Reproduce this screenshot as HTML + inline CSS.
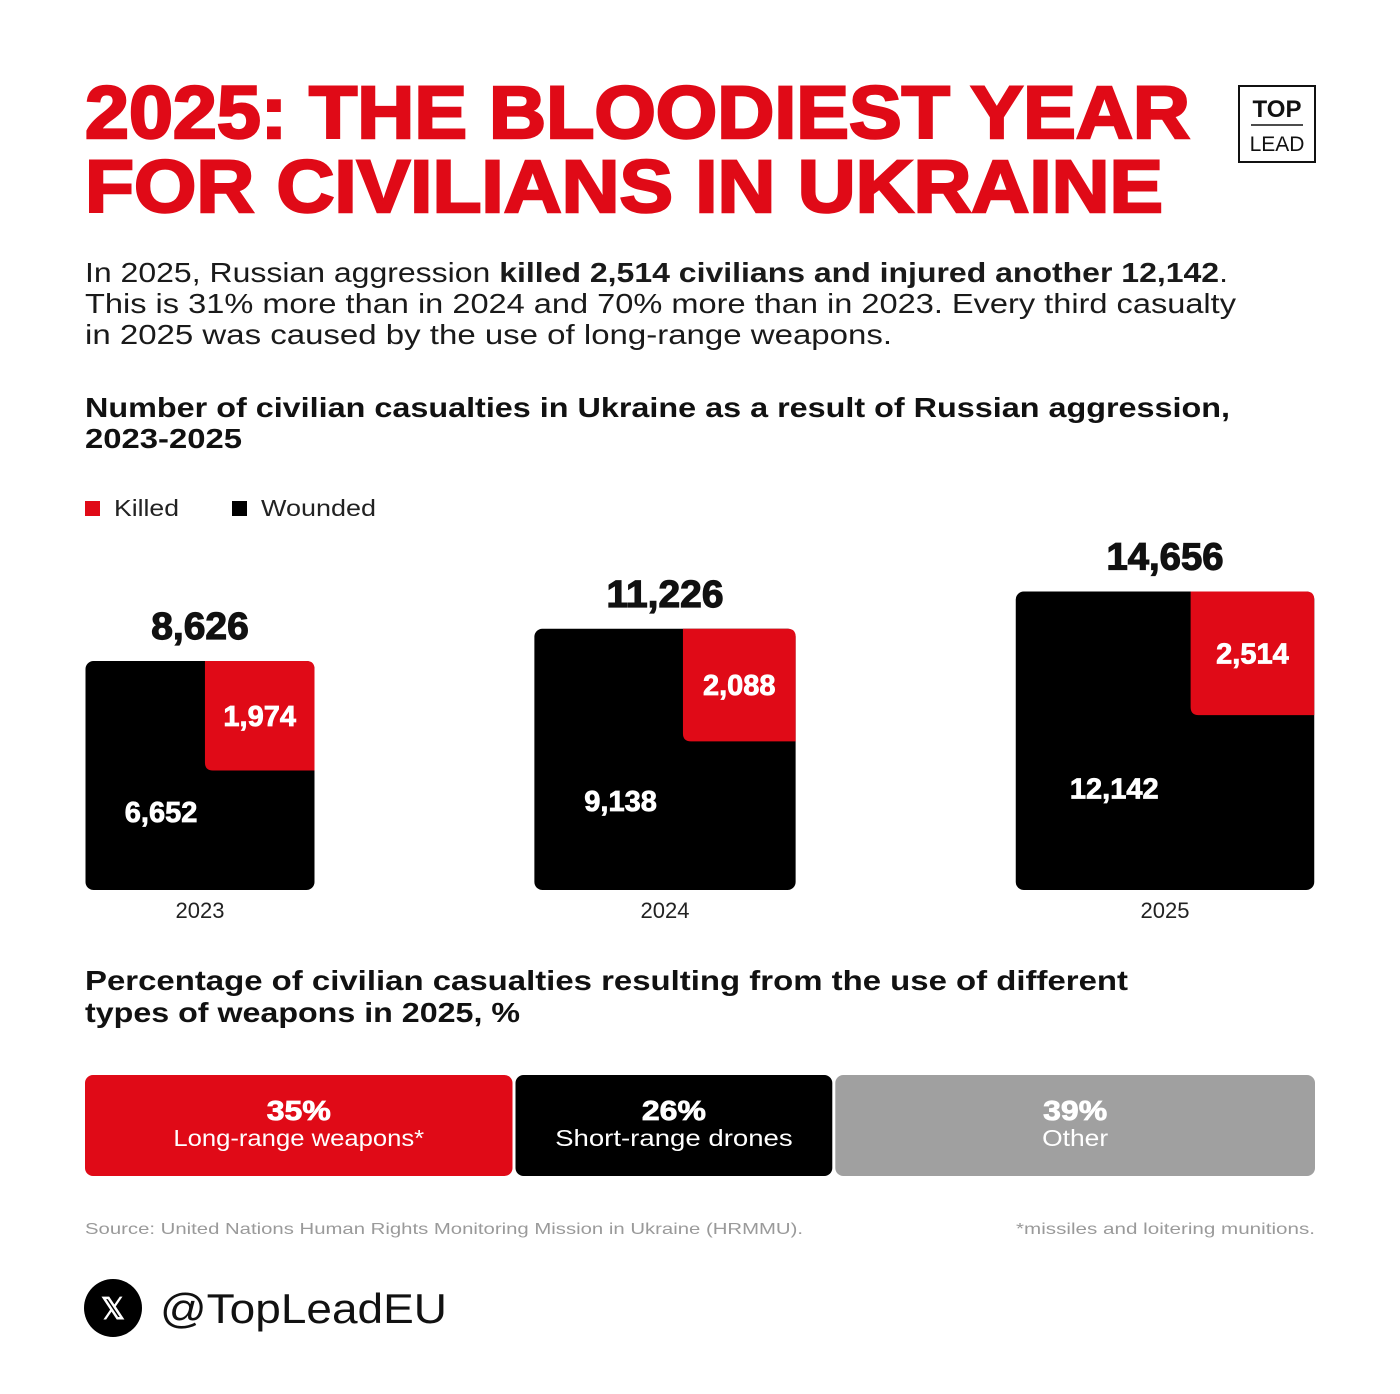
<!DOCTYPE html>
<html><head><meta charset="utf-8"><style>
html,body{margin:0;padding:0;background:#fff}
svg{display:block}
text{font-family:"Liberation Sans",sans-serif}
</style></head><body>
<svg id="c" width="1400" height="1394" viewBox="0 0 1400 1394" xmlns="http://www.w3.org/2000/svg">
<rect width="1400" height="1394" fill="#fff"/>
<g fill="#e00a17" font-weight="700">
<text x="85" y="138" font-size="74" textLength="1105" lengthAdjust="spacingAndGlyphs" stroke="#e00a17" stroke-width="2.5">2025: THE BLOODIEST YEAR</text>
<text x="85" y="212" font-size="74" textLength="1078" lengthAdjust="spacingAndGlyphs" stroke="#e00a17" stroke-width="2.5">FOR CIVILIANS IN UKRAINE</text>
</g>
<g>
<rect x="1239" y="86" width="76" height="76" fill="none" stroke="#111" stroke-width="2"/>
<text x="1277" y="117" font-size="24" font-weight="700" text-anchor="middle" fill="#111">TOP</text>
<line x1="1251" y1="125" x2="1303" y2="125" stroke="#111" stroke-width="1.5"/>
<text x="1277" y="151" font-size="21" text-anchor="middle" fill="#111">LEAD</text>
</g>
<g fill="#1a1a1a" font-size="28">
<text x="85" y="282" textLength="1143" lengthAdjust="spacingAndGlyphs">In 2025, Russian aggression <tspan font-weight="700">killed 2,514 civilians and injured another 12,142</tspan>.</text>
<text x="85" y="313" textLength="1151" lengthAdjust="spacingAndGlyphs">This is 31% more than in 2024 and 70% more than in 2023. Every third casualty</text>
<text x="85" y="344" textLength="807" lengthAdjust="spacingAndGlyphs">in 2025 was caused by the use of long-range weapons.</text>
</g>
<g fill="#111" font-size="28" font-weight="700">
<text x="85" y="417" textLength="1145" lengthAdjust="spacingAndGlyphs">Number of civilian casualties in Ukraine as a result of Russian aggression,</text>
<text x="85" y="448" textLength="157" lengthAdjust="spacingAndGlyphs">2023-2025</text>
</g>
<g font-size="23" fill="#222">
<g><rect x="85" y="501" width="15" height="15" fill="#e00a17"/><text x="114" y="516" textLength="65" lengthAdjust="spacingAndGlyphs">Killed</text></g>
<g><rect x="232" y="501" width="15" height="15" fill="#000"/><text x="261" y="516" textLength="115" lengthAdjust="spacingAndGlyphs">Wounded</text></g>
</g>
<g id="squares"></g>
<g fill="#111" font-size="28" font-weight="700">
<text x="85" y="990" textLength="1043" lengthAdjust="spacingAndGlyphs">Percentage of civilian casualties resulting from the use of different</text>
<text x="85" y="1022" textLength="435" lengthAdjust="spacingAndGlyphs">types of weapons in 2025, %</text>
</g>
<g id="bar"></g>
<g font-size="16" fill="#9a9a9a">
<text x="85" y="1234" textLength="718" lengthAdjust="spacingAndGlyphs">Source: United Nations Human Rights Monitoring Mission in Ukraine (HRMMU).</text>
<text x="1016" y="1234" textLength="299" lengthAdjust="spacingAndGlyphs">*missiles and loitering munitions.</text>
</g>
<g>
<circle cx="113" cy="1308" r="29" fill="#000"/>
<text x="113" y="1319" font-size="30" font-weight="700" fill="#fff" text-anchor="middle">𝕏</text>
<text x="160" y="1323" font-size="42" fill="#111" textLength="287" lengthAdjust="spacingAndGlyphs">@TopLeadEU</text>
</g>
</svg>
<script>
const years=["2023","2024","2025"];
const killed=[1974,2088,2514];
const wounded=[6652,9138,12142];
const totals=[8626,11226,14656];
const weaponLabels=["Long-range weapons*","Short-range drones","Other"];
const weaponShares=[35,26,39];
const NS="http://www.w3.org/2000/svg";
function mk(t,a,p){const e=document.createElementNS(NS,t);for(const k in a)e.setAttribute(k,a[k]);p.appendChild(e);return e;}
const fmt=v=>v.toLocaleString('en-US');
const k=229/Math.sqrt(8626), base=890, centers=[200,665,1165];
const side=v=>Math.sqrt(v)*k;
const sq=document.getElementById('squares');
years.forEach((y,i)=>{
  const tot=killed[i]+wounded[i], s=side(tot), x=centers[i]-s/2, top=base-s;
  const g=mk('g',{},sq);
  
  
  mk('rect',{x:x,y:top,width:s,height:s,rx:8,fill:'#000'},g);
  const r=side(killed[i]);
  const rr=mk('path',{d:`M${x+s-r},${top} H${x+s-8} Q${x+s},${top} ${x+s},${top+8} V${top+r} H${x+s-r+8} Q${x+s-r},${top+r} ${x+s-r},${top+r-8} Z`,fill:'#e00a17'},g);
  
  
  const ks=fmt(killed[i]), ws=fmt(wounded[i]), ts=fmt(totals[i]);
  const t1=mk('text',{x:x+s-r/2,y:top+r/2+10,'font-size':29,'font-weight':700,fill:'#fff','text-anchor':'middle',stroke:'#fff','stroke-width':0.8},g);t1.textContent=ks;
  const t2=mk('text',{x:x+s*0.33,y:top+s*0.66+10,'font-size':29,'font-weight':700,fill:'#fff','text-anchor':'middle',stroke:'#fff','stroke-width':0.8},g);t2.textContent=ws;
  const t3=mk('text',{x:centers[i],y:top-22,'font-size':38,'font-weight':700,fill:'#111','text-anchor':'middle',stroke:'#111','stroke-width':1.2,textLength:ts.length*19.5,lengthAdjust:'spacingAndGlyphs'},g);t3.textContent=ts;
  
  const t4=mk('text',{x:centers[i],y:918,'font-size':22,fill:'#222','text-anchor':'middle'},g);t4.textContent=y;
  
});
const bar=document.getElementById('bar');
const bx0=85,bx1=1315,gap=3,bw=bx1-bx0,colors=['#e00a17','#000','#a0a0a0'];
let acc=0;
weaponShares.forEach((v,i)=>{
  const x=bx0+acc/100*bw, w=v/100*bw-(i<2?gap:0);
  acc+=v;
  const g=mk('g',{},bar);
  
  
  mk('rect',{x:x,y:1075,width:w,height:101,rx:8,fill:colors[i]},g);
  const a=mk('text',{x:x+w/2,y:1120,'font-size':28,'font-weight':700,fill:'#fff','text-anchor':'middle',stroke:'#fff','stroke-width':0.8,textLength:64,lengthAdjust:'spacingAndGlyphs'},g);a.textContent=v+'%';
  const b=mk('text',{x:x+w/2,y:1146,'font-size':23,fill:'#fff','text-anchor':'middle',textLength:weaponLabels[i].length*13.2,lengthAdjust:'spacingAndGlyphs'},g);b.textContent=weaponLabels[i];
});
</script>
</body></html>
